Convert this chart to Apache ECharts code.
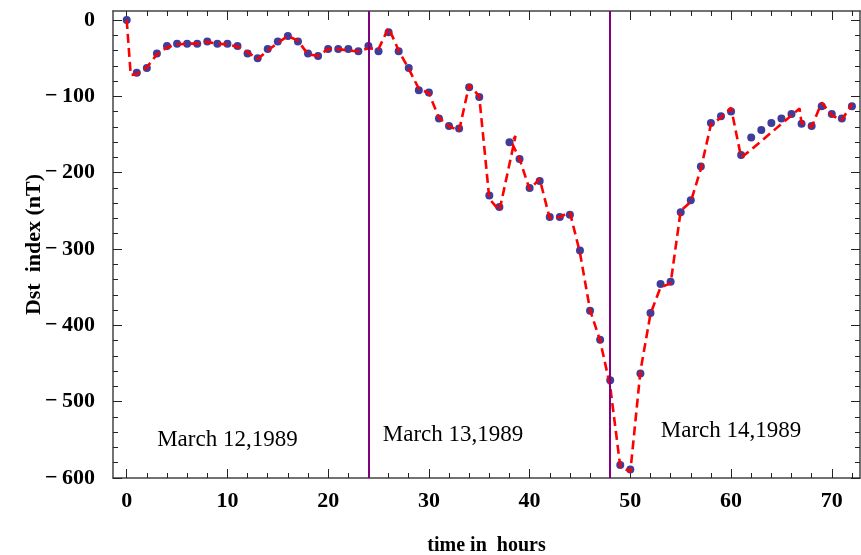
<!DOCTYPE html>
<html>
<head>
<meta charset="utf-8">
<script src="https://cdn.jsdelivr.net/npm/echarts@6/dist/echarts.min.js"></script>
<style>
  html, body { margin: 0; padding: 0; background: #ffffff; }
  #main { width: 861px; height: 555px; }
</style>
</head>
<body>
<div id="main"></div>
<script>
// Hourly Dst index, 12-14 March 1989 storm
const hours = [0, 1, 2, 3, 4, 5, 6, 7, 8, 9, 10, 11, 12, 13, 14, 15, 16, 17, 18, 19,
  20, 21, 22, 23, 24, 25, 26, 27, 28, 29, 30, 31, 32, 33, 34, 35, 36, 37, 38, 39,
  40, 41, 42, 43, 44, 45, 46, 47, 48, 49, 50, 51, 52, 53, 54, 55, 56, 57, 58, 59,
  60, 61, 62, 63, 64, 65, 66, 67, 68, 69, 70, 71, 72];
const dst = [0, -69, -63, -44, -34, -31, -31, -31, -28, -31, -31, -34, -44, -50, -38, -28, -21, -28, -44, -47,
  -38, -38, -38, -41, -34, -41, -16, -41, -63, -92, -95, -129, -139, -142, -88, -101, -230, -245, -160, -182,
  -220, -211, -258, -258, -255, -302, -381, -419, -472, -583, -589, -463, -384, -346, -343, -252, -236, -192, -135, -126,
  -120, -177, -154, -144, -135, -129, -123, -136, -139, -113, -123, -129, -113];

// Fitted curve (dashed red)
const fitHours = [0, 0.4, 1, 2, 3, 4, 5, 6, 7, 8, 9, 10, 11, 12, 13, 14, 15, 16, 17, 18,
  19, 20, 21, 22, 23, 24, 25, 26, 27, 28, 29, 30, 31, 32, 33, 34, 35, 36, 37, 38.6,
  38.2, 39, 40, 41, 42, 43, 44, 45, 46, 47, 48, 49, 50, 51, 52, 53, 54, 55, 56, 57,
  58, 59, 60, 61, 61.8, 66.8, 67, 68, 69, 70, 71, 72];
const fitDst = [0, -72, -71, -62, -45, -36, -32, -31, -31, -29, -31, -32, -35, -42, -51, -40, -30, -21, -27, -45,
  -47, -38, -38, -40, -41, -37, -38, -10, -40, -64, -90, -96, -128, -139, -145, -85, -100, -234, -250, -152,
  -160, -182, -222, -208, -260, -258, -252, -305, -380, -420, -480, -585, -592, -460, -385, -350, -345, -250, -238, -195,
  -137, -128, -115, -180, -172, -116, -135, -140, -108, -125, -131, -110];

const dayBoundaries = [24, 48];
const dayNames = ['March 12,1989', 'March 13,1989', 'March 14,1989'];
const dayNameHours = [10, 32.4, 60];
const dayNameDst = [-550, -544, -538];

const xLabelTicks = [0, 10, 20, 30, 40, 50, 60, 70];
const xMinorTicks = [0, 2, 4, 6, 8, 10, 12, 14, 16, 18, 20, 22, 24, 26, 28, 30, 32, 34, 36,
  38, 40, 42, 44, 46, 48, 50, 52, 54, 56, 58, 60, 62, 64, 66, 68, 70, 72];
const yLabelTicks = [0, -100, -200, -300, -400, -500, -600];
const yMinorTicks = [0, -20, -40, -60, -80, -100, -120, -140, -160, -180, -200, -220, -240, -260,
  -280, -300, -320, -340, -360, -380, -400, -420, -440, -460, -480, -500, -520, -540, -560, -580, -600];

const X_MIN = -1.36, X_MAX = 72.8;
const Y_MIN = -600, Y_MAX = 11.8;
const FRAME = '#444444';
const SERIF = '"Liberation Serif", "Times New Roman", serif';

function xAxisDef(position, ticks, len, withLabels) {
  return {
    type: 'value', position: position, min: X_MIN, max: X_MAX,
    axisLine: { show: withLabels, onZero: false, lineStyle: { color: FRAME, width: 1.5 } },
    axisTick: { show: true, inside: true, length: len, customValues: ticks,
      lineStyle: { color: '#222', width: 1 } },
    axisLabel: withLabels && position === 'bottom' ? {
      customValues: xLabelTicks, margin: 12, color: '#000',
      fontFamily: SERIF, fontWeight: 'bold', fontSize: 22
    } : { show: false },
    splitLine: { show: false }
  };
}

function yAxisDef(position, ticks, len, withLabels) {
  return {
    type: 'value', position: position, min: Y_MIN, max: Y_MAX,
    axisLine: { show: withLabels, onZero: false, lineStyle: { color: FRAME, width: 1.5 } },
    axisTick: { show: true, inside: true, length: len, customValues: ticks,
      lineStyle: { color: '#222', width: 1 } },
    axisLabel: withLabels && position === 'left' ? {
      customValues: yLabelTicks, margin: 18, color: '#000',
      fontFamily: SERIF, fontWeight: 'bold', fontSize: 22,
      formatter: function (v) { return v < 0 ? '\u2212\u2009' + Math.abs(v) : String(v); }
    } : { show: false },
    splitLine: { show: false }
  };
}

const xAxes = [
  xAxisDef('bottom', xLabelTicks, 9, true),
  xAxisDef('bottom', xMinorTicks, 5, false),
  xAxisDef('top', xLabelTicks, 9, true),
  xAxisDef('top', xMinorTicks, 5, false)
];
Object.assign(xAxes[0], {
  name: 'time in  hours', nameLocation: 'middle', nameGap: 58, nameMoveOverlap: false,
  nameTextStyle: { fontFamily: SERIF, fontWeight: 'bold', fontSize: 20, color: '#000' }
});

const yAxes = [
  yAxisDef('left', yLabelTicks, 9, true),
  yAxisDef('left', yMinorTicks, 5, false),
  yAxisDef('right', yLabelTicks, 9, true),
  yAxisDef('right', yMinorTicks, 5, false)
];
Object.assign(yAxes[0], {
  name: 'Dst  index (nT)', nameLocation: 'middle', nameGap: 68, nameMoveOverlap: false,
  nameTextStyle: { fontFamily: SERIF, fontWeight: 'bold', fontSize: 22, color: '#000' }
});

const chart = echarts.init(document.getElementById('main'), null, { renderer: 'canvas' });
chart.setOption({
  animation: false,
  backgroundColor: '#ffffff',
  grid: { left: 113, right: 1, top: 11, bottom: 77, containLabel: false, outerBoundsMode: 'none' },
  xAxis: xAxes,
  yAxis: yAxes,
  series: [
    {
      name: 'Dst', type: 'scatter', xAxisIndex: 0, yAxisIndex: 0,
      data: hours.map((h, i) => [h, dst[i]]),
      symbol: 'circle', symbolSize: 8,
      itemStyle: { color: '#3d3d9c', opacity: 1 },
      z: 3,
      markLine: {
        silent: true, symbol: 'none', animation: false,
        label: { show: false },
        lineStyle: { color: '#800080', width: 2, type: 'solid', opacity: 1 },
        data: dayBoundaries.map(h => ({ xAxis: h }))
      }
    },
    {
      name: 'fit', type: 'line', xAxisIndex: 0, yAxisIndex: 0,
      data: fitHours.map((h, i) => [h, fitDst[i]]),
      showSymbol: false, symbol: 'none',
      lineStyle: { color: '#ff0000', width: 2.6, type: [9, 5] },
      z: 4
    },
    {
      name: 'days', type: 'scatter', xAxisIndex: 0, yAxisIndex: 0,
      data: dayNameHours.map((h, i) => ({ value: [h, dayNameDst[i]], name: dayNames[i] })),
      symbolSize: 0, silent: true,
      itemStyle: { opacity: 1 },
      label: {
        show: true, position: 'inside', formatter: p => p.name,
        fontFamily: SERIF, fontSize: 23, color: '#000'
      },
      z: 5
    }
  ]
});
</script>
</body>
</html>
